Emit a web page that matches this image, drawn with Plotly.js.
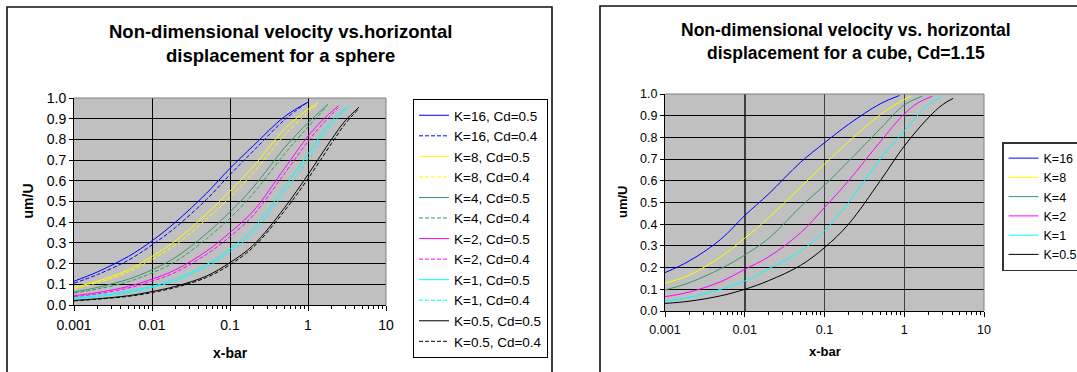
<!DOCTYPE html>
<html>
<head>
<meta charset="utf-8">
<script src="https://cdn.plot.ly/plotly-3.0.1.min.js"></script>
<style>html,body{margin:0;padding:0;background:#fff;overflow:hidden;width:1077px;height:372px;}#chart{width:1110px;height:372px;}</style>
</head>
<body>
<div id="chart"></div>
<script>
// ---------- Sphere chart data (x-bar, um/U) ----------
const sphereK16Cd05_x = [0.001,0.002,0.005,0.01,0.02,0.05,0.1,0.2,0.5,1.0];
const sphereK16Cd05_y = [0.115,0.16,0.235,0.31,0.40,0.54,0.66,0.77,0.91,0.98];
const sphereK16Cd04_x = [0.001,0.002,0.005,0.01,0.02,0.05,0.1,0.2,0.5,0.95];
const sphereK16Cd04_y = [0.105,0.147,0.217,0.29,0.375,0.51,0.63,0.745,0.895,0.975];
const sphereK8Cd05_x = [0.001,0.002,0.005,0.01,0.02,0.05,0.1,0.2,0.5,1.0,1.34];
const sphereK8Cd05_y = [0.085,0.115,0.17,0.235,0.31,0.44,0.55,0.67,0.85,0.945,0.975];
const sphereK8Cd04_x = [0.001,0.002,0.005,0.01,0.02,0.05,0.1,0.2,0.5,1.0,1.3];
const sphereK8Cd04_y = [0.08,0.107,0.16,0.22,0.29,0.415,0.52,0.64,0.82,0.93,0.965];
const sphereK4Cd05_x = [0.001,0.002,0.005,0.01,0.02,0.05,0.1,0.2,0.5,1.0,1.8];
const sphereK4Cd05_y = [0.063,0.085,0.125,0.17,0.23,0.345,0.45,0.57,0.76,0.88,0.97];
const sphereK4Cd04_x = [0.001,0.002,0.005,0.01,0.02,0.05,0.1,0.2,0.5,1.0,1.75];
const sphereK4Cd04_y = [0.058,0.077,0.113,0.155,0.21,0.32,0.42,0.54,0.73,0.86,0.96];
const sphereK2Cd05_x = [0.001,0.002,0.005,0.01,0.02,0.05,0.1,0.2,0.5,1.0,1.5,2.47];
const sphereK2Cd05_y = [0.045,0.06,0.09,0.125,0.17,0.26,0.35,0.455,0.66,0.815,0.89,0.963];
const sphereK2Cd04_x = [0.001,0.002,0.005,0.01,0.02,0.05,0.1,0.2,0.5,1.0,1.5,2.4];
const sphereK2Cd04_y = [0.04,0.054,0.082,0.115,0.158,0.245,0.33,0.435,0.635,0.79,0.87,0.95];
const sphereK1Cd05_x = [0.001,0.002,0.005,0.01,0.02,0.05,0.1,0.2,0.5,1.0,2.0,3.3];
const sphereK1Cd05_y = [0.033,0.045,0.067,0.09,0.125,0.195,0.27,0.37,0.57,0.73,0.89,0.96];
const sphereK1Cd04_x = [0.001,0.002,0.005,0.01,0.02,0.05,0.1,0.2,0.5,1.0,2.0,3.2];
const sphereK1Cd04_y = [0.028,0.04,0.06,0.085,0.117,0.183,0.255,0.35,0.545,0.705,0.87,0.95];
const sphereK05Cd05_x = [0.001,0.002,0.005,0.01,0.02,0.05,0.1,0.2,0.5,1.0,2.0,3.0,4.5];
const sphereK05Cd05_y = [0.022,0.03,0.045,0.065,0.09,0.14,0.205,0.29,0.47,0.63,0.8,0.89,0.955];
const sphereK05Cd04_x = [0.001,0.002,0.005,0.01,0.02,0.05,0.1,0.2,0.5,1.0,2.0,3.0,4.4];
const sphereK05Cd04_y = [0.02,0.028,0.042,0.06,0.085,0.133,0.195,0.28,0.455,0.61,0.78,0.875,0.945];

// ---------- Cube chart data (Cd=1.15) ----------
const cubeK16_x = [0.001,0.002,0.005,0.01,0.02,0.05,0.1,0.2,0.5,0.87];
const cubeK16_y = [0.177,0.23,0.33,0.44,0.54,0.685,0.775,0.86,0.955,0.993];
const cubeK8_x = [0.001,0.002,0.005,0.01,0.02,0.05,0.1,0.2,0.5,1.0,1.21];
const cubeK8_y = [0.128,0.165,0.25,0.335,0.43,0.57,0.677,0.78,0.905,0.975,0.99];
const cubeK4_x = [0.001,0.002,0.005,0.01,0.02,0.05,0.1,0.2,0.5,1.0,1.69];
const cubeK4_y = [0.097,0.13,0.195,0.258,0.335,0.48,0.58,0.69,0.84,0.95,0.99];
const cubeK2_x = [0.001,0.002,0.005,0.01,0.02,0.05,0.1,0.2,0.5,1.0,1.5,2.26];
const cubeK2_y = [0.066,0.087,0.135,0.192,0.25,0.36,0.477,0.6,0.78,0.908,0.96,0.99];
const cubeK1_x = [0.001,0.002,0.005,0.01,0.02,0.05,0.1,0.2,0.5,1.0,2.0,2.95];
const cubeK1_y = [0.046,0.062,0.1,0.138,0.195,0.275,0.37,0.5,0.7,0.83,0.95,0.988];
const cubeK05_x = [0.001,0.002,0.005,0.01,0.02,0.05,0.1,0.2,0.5,1.0,2.0,3.0,4.1];
const cubeK05_y = [0.035,0.045,0.07,0.1,0.14,0.21,0.292,0.4,0.6,0.76,0.89,0.95,0.98];

// ---------- Labels ----------
const sphereNames = ['K=16, Cd=0.5','K=16, Cd=0.4','K=8, Cd=0.5','K=8, Cd=0.4','K=4, Cd=0.5','K=4, Cd=0.4',
                     'K=2, Cd=0.5','K=2, Cd=0.4','K=1, Cd=0.5','K=1, Cd=0.4','K=0.5, Cd=0.5','K=0.5, Cd=0.4'];
const cubeNames = ['K=16','K=8','K=4','K=2','K=1','K=0.5'];
const title1 = 'Non-dimensional velocity vs.horizontal<br>displacement for a sphere';
const title2 = 'Non-dimensional velocity vs. horizontal<br>displacement for a cube, Cd=1.15';
const xTitle = 'x-bar';
const yTitle = 'um/U';

// ---------- Styling ----------
// The figure is a bit wider than the window so the right chart frame runs off the edge, as in the reference.
const W = 1110, H = 372;
const px = v => v / W;
const py = v => 1 - v / H;
const colors = ['#0000FF','#FFFF00','#339966','#FF00FF','#00FFFF','#000000'];
const FONT = 'Liberation Sans, Arial, sans-serif';

const sphereX = [sphereK16Cd05_x,sphereK16Cd04_x,sphereK8Cd05_x,sphereK8Cd04_x,sphereK4Cd05_x,sphereK4Cd04_x,
                 sphereK2Cd05_x,sphereK2Cd04_x,sphereK1Cd05_x,sphereK1Cd04_x,sphereK05Cd05_x,sphereK05Cd04_x];
const sphereY = [sphereK16Cd05_y,sphereK16Cd04_y,sphereK8Cd05_y,sphereK8Cd04_y,sphereK4Cd05_y,sphereK4Cd04_y,
                 sphereK2Cd05_y,sphereK2Cd04_y,sphereK1Cd05_y,sphereK1Cd04_y,sphereK05Cd05_y,sphereK05Cd04_y];
const cubeX = [cubeK16_x,cubeK8_x,cubeK4_x,cubeK2_x,cubeK1_x,cubeK05_x];
const cubeY = [cubeK16_y,cubeK8_y,cubeK4_y,cubeK2_y,cubeK1_y,cubeK05_y];

const traces = [];
sphereNames.forEach((n, i) => {
  traces.push({
    type: 'scatter', mode: 'lines', name: n, x: sphereX[i], y: sphereY[i],
    xaxis: 'x', yaxis: 'y', legend: 'legend',
    line: {color: colors[Math.floor(i/2)], width: 1, dash: (i % 2 === 1) ? '4px,2px' : 'solid', shape: 'spline', smoothing: 1}
  });
});
cubeNames.forEach((n, i) => {
  traces.push({
    type: 'scatter', mode: 'lines', name: n, x: cubeX[i], y: cubeY[i],
    xaxis: 'x2', yaxis: 'y2', legend: 'legend2',
    line: {color: colors[i], width: 1, shape: 'spline', smoothing: 1}
  });
});

function xAxis(domain, anchor, fs, gridcolor, gridwidth) {
  return {
    type: 'log', range: [-3, 1], domain: domain, anchor: anchor,
    tickmode: 'linear', tick0: 0, dtick: 1, tickformat: '~g',
    ticks: 'outside', ticklen: 5, tickcolor: '#000', tickwidth: 1,
    showgrid: true, gridcolor: gridcolor, gridwidth: gridwidth,
    showline: true, linecolor: '#000', linewidth: 1,
    zeroline: false, tickfont: {size: fs, color: '#000', family: FONT},
    ticklabelstandoff: 2,
    minor: {dtick: 'D1', ticks: 'outside', ticklen: 3, tickcolor: '#000', showgrid: false},
    fixedrange: true
  };
}
function yAxis(domain, anchor, fs) {
  return {
    range: [0, 1], domain: domain, anchor: anchor,
    tickmode: 'linear', tick0: 0, dtick: 0.1, tickformat: '.1f',
    ticks: 'outside', ticklen: 4, tickcolor: '#000',
    showgrid: true, gridcolor: '#000', gridwidth: 1,
    showline: true, linecolor: '#000', linewidth: 1,
    zeroline: false, tickfont: {size: fs, color: '#000', family: FONT},
    fixedrange: true
  };
}
function outline(xr, yr) {
  return [
    {type: 'line', xref: xr + ' domain', yref: yr + ' domain', x0: 0, x1: 1, y0: 1, y1: 1, line: {color: '#808080', width: 1}, layer: 'above'},
    {type: 'line', xref: xr + ' domain', yref: yr + ' domain', x0: 1, x1: 1, y0: 0, y1: 1, line: {color: '#808080', width: 1}, layer: 'above'}
  ];
}

const layout = {
  width: W, height: H,
  margin: {l: 0, r: 0, t: 0, b: 0},
  paper_bgcolor: '#fff', plot_bgcolor: '#C0C0C0',
  font: {family: FONT, color: '#000'},
  xaxis: xAxis([px(74), px(386)], 'y', 14, '#000', 1),
  yaxis: yAxis([py(305), py(98)], 'x', 14),
  xaxis2: xAxis([px(665), px(984)], 'y2', 12.5, '#404040', 1.5),
  yaxis2: yAxis([py(311), py(94)], 'x2', 12.5),
  legend: {
    x: px(413), y: py(99), xanchor: 'left', yanchor: 'top',
    bgcolor: '#fff', bordercolor: '#000', borderwidth: 1,
    font: {size: 13.5, family: FONT, color: '#000'}, tracegroupgap: 0, itemwidth: 30
  },
  legend2: {
    x: px(1002), y: py(142), xanchor: 'left', yanchor: 'top',
    bgcolor: '#fff', bordercolor: '#333', borderwidth: 1.5,
    font: {size: 12.5, family: FONT, color: '#000'}, tracegroupgap: 0, itemwidth: 30
  },
  shapes: [
    {type: 'rect', xref: 'paper', yref: 'paper', x0: px(7), x1: px(552), y0: -0.2, y1: py(7),
     line: {color: '#111', width: 1.6}, fillcolor: 'rgba(0,0,0,0)', layer: 'below'},
    {type: 'rect', xref: 'paper', yref: 'paper', x0: px(600), x1: 1.2, y0: -0.2, y1: py(6),
     line: {color: '#111', width: 1.6}, fillcolor: 'rgba(0,0,0,0)', layer: 'below'}
  ].concat(outline('x', 'y'), outline('x2', 'y2')),
  annotations: [
    {text: '<b>' + title1 + '</b>', xref: 'paper', yref: 'paper', x: px(280), y: py(43.5),
     xanchor: 'center', yanchor: 'middle', showarrow: false, font: {size: 18.5, family: FONT}},
    {text: '<b>' + title2 + '</b>', xref: 'paper', yref: 'paper', x: px(846), y: py(41.5),
     xanchor: 'center', yanchor: 'middle', showarrow: false, font: {size: 17.5, family: FONT}},
    {text: '<b>' + xTitle + '</b>', xref: 'paper', yref: 'paper', x: px(230), y: py(353),
     xanchor: 'center', yanchor: 'middle', showarrow: false, font: {size: 14, family: FONT}},
    {text: '<b>' + yTitle + '</b>', xref: 'paper', yref: 'paper', x: px(27.5), y: py(201),
     xanchor: 'center', yanchor: 'middle', textangle: -90, showarrow: false, font: {size: 14, family: FONT}},
    {text: '<b>' + xTitle + '</b>', xref: 'paper', yref: 'paper', x: px(825), y: py(351),
     xanchor: 'center', yanchor: 'middle', showarrow: false, font: {size: 13, family: FONT}},
    {text: '<b>' + yTitle + '</b>', xref: 'paper', yref: 'paper', x: px(622.5), y: py(201.5),
     xanchor: 'center', yanchor: 'middle', textangle: -90, showarrow: false, font: {size: 13, family: FONT}}
  ],
  showlegend: true
};

Plotly.newPlot('chart', traces, layout, {staticPlot: true, displayModeBar: false});
</script>
</body>
</html>
